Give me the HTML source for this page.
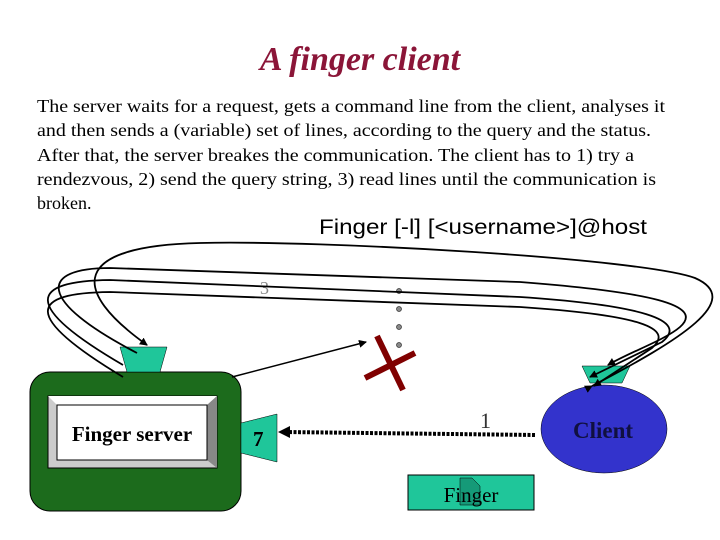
<!DOCTYPE html>
<html><head><meta charset="utf-8"><style>
html,body{margin:0;padding:0;background:#fff;}
svg{display:block;}
</style></head><body>
<svg width="720" height="540" viewBox="0 0 720 540" xmlns="http://www.w3.org/2000/svg">
<defs>
<marker id="ah" markerWidth="8" markerHeight="8" refX="7" refY="4" orient="auto" markerUnits="userSpaceOnUse">
<path d="M0,0 L8,4 L0,8 z" fill="#000"/></marker>
</defs>
<text x="360" y="70" text-anchor="middle" font-family="Liberation Serif, serif" font-style="italic" font-weight="bold" font-size="34" fill="#8b1538">A finger client</text>
<g font-family="Liberation Serif, serif" font-size="18" fill="#000">
<text x="37" y="112" textLength="628" lengthAdjust="spacingAndGlyphs">The server waits for a request, gets a command line from the client, analyses it</text>
<text x="37" y="136" textLength="614" lengthAdjust="spacingAndGlyphs">and then sends a (variable) set of lines, according to the query and the status.</text>
<text x="37" y="161" textLength="597" lengthAdjust="spacingAndGlyphs">After that, the server breakes the communication. The client has to 1) try a</text>
<text x="37" y="185" textLength="619" lengthAdjust="spacingAndGlyphs">rendezvous, 2) send the query string, 3) read lines until the communication is</text>
<text x="37" y="209">broken.</text>
</g>
<text x="319" y="234" font-family="Liberation Sans, sans-serif" font-size="21" textLength="328" lengthAdjust="spacingAndGlyphs">Finger [-l] [&lt;username&gt;]@host</text>
<text x="260" y="294" font-family="Liberation Serif, serif" font-size="18" fill="#888">3</text>
<rect x="30" y="372" width="211" height="139" rx="20" fill="#1c6b1c" stroke="#000" stroke-width="1"/>
<rect x="48" y="396" width="169" height="72" fill="#ccc" stroke="#000"/>
<polygon points="48,396 217,396 207,405 57,405" fill="#fff"/>
<polygon points="207,405 217,396 217,468 207,460" fill="#888"/>
<rect x="57" y="405" width="150" height="55" fill="#fff" stroke="#000"/>
<text x="132" y="441" text-anchor="middle" font-family="Liberation Serif, serif" font-weight="bold" font-size="21">Finger server</text>
<polygon points="120,347 167,347 160,372 127,372" fill="#1fc69a" stroke="#000" stroke-width="0.5"/>
<polygon points="241,423 277,414 277,462 241,453" fill="#1fc69a" stroke="#000" stroke-width="0.5"/>
<text x="253" y="446" font-family="Liberation Serif, serif" font-weight="bold" font-size="21">7</text>
<ellipse cx="604" cy="429" rx="63" ry="44" fill="#3333cc" stroke="#000" stroke-width="0.5"/>
<text x="603" y="438" text-anchor="middle" font-family="Liberation Serif, serif" font-weight="bold" font-size="23" fill="#101040">Client</text>
<polygon points="582,366 630,366 622,383 590,383" fill="#1fc69a" stroke="#000" stroke-width="0.5"/>
<rect x="408" y="475" width="126" height="35" fill="#1fc69a" stroke="#000" stroke-width="1"/>
<path d="M460,478 L472,478 L480,486 L480,505 L460,505 z" fill="#159a78" stroke="#000" stroke-width="0.5"/>
<text x="471" y="502" text-anchor="middle" font-family="Liberation Serif, serif" font-size="21">Finger</text>
<line x1="535" y1="435" x2="284" y2="432" stroke="#000" stroke-width="4" stroke-dasharray="3,1.5"/>
<path d="M278,432 L290,426 L290,438 z" fill="#000"/>
<text x="480" y="428" font-family="Liberation Serif, serif" font-size="22" fill="#333">1</text>
<g fill="#888" stroke="#333" stroke-width="0.7">
<circle cx="399" cy="291" r="2.5"/><circle cx="399" cy="309" r="2.5"/><circle cx="399" cy="327" r="2.5"/><circle cx="399" cy="345" r="2.5"/>
</g>
<line x1="377" y1="336" x2="403" y2="390" stroke="#800000" stroke-width="6"/>
<line x1="365" y1="378" x2="415" y2="353" stroke="#800000" stroke-width="6"/>
<line x1="232" y1="377" x2="366" y2="342" stroke="#000" stroke-width="1.5" marker-end="url(#ah)"/>
<g fill="none" stroke="#000" stroke-width="1.8">
<path d="M592,386 C680,340 745,300 695,278 C640,258 320,240 200,243 C70,246 70,290 147,345" marker-start="url(#ah)" marker-end="url(#ah)"/>
<path d="M137,353 C35,300 40,268 110,268 L520,282 C650,292 705,305 680,327 C665,340 630,352 608,365" marker-end="url(#ah)"/>
<path d="M123,365 C20,305 30,281 110,280 L520,297 C640,305 690,320 662,342 L590,377" marker-end="url(#ah)"/>
<path d="M123,377 C20,315 30,293 110,292 L520,307 C640,315 675,328 652,348 L594,386" marker-end="url(#ah)"/>
</g>
</svg>
</body></html>
